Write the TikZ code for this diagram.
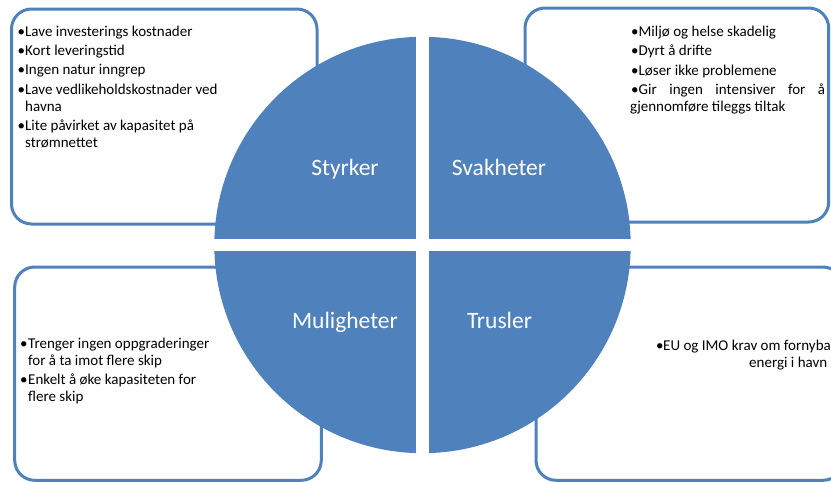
\documentclass[tikz,border=0pt]{standalone}
\usepackage{fontspec}
\setmainfont{Carlito}
\definecolor{swotblue}{RGB}{79,129,189}
\begin{document}
\begin{tikzpicture}[x=1pt,y=-1pt,
  frame/.style={draw=swotblue, line width=3pt, rounded corners=20pt},
  quad/.style={fill=swotblue},
  heading/.style={text=white, inner sep=0pt, anchor=base,
    font=\fontsize{23.5}{28}\selectfont},
  item/.style={text=black, inner sep=0pt, anchor=base west,
    font=\fontsize{15}{17}\selectfont}]
\useasboundingbox (0,0) rectangle (831,482);
\clip (0,0) rectangle (831,482);

% outlined text boxes behind the disc
\draw[frame] (11.5,9) rectangle (317,224);
\draw[frame] (525,8) rectangle (828.7,222);
\draw[frame] (14.7,267) rectangle (321.3,480.3);
\draw[frame] (536,267) rectangle (843,480.3);

% the disc, split into four quarters by a white cross
\coordinate (c) at (422.5,245);
\begin{scope}
  \clip (0,0) rectangle (415.8,238.3);
  \fill[quad] (c) circle[radius=208.2];
\end{scope}
\begin{scope}
  \clip (429.2,0) rectangle (831,238.3);
  \fill[quad] (c) circle[radius=208.2];
\end{scope}
\begin{scope}
  \clip (0,251.7) rectangle (415.8,482);
  \fill[quad] (c) circle[radius=208.2];
\end{scope}
\begin{scope}
  \clip (429.2,251.7) rectangle (831,482);
  \fill[quad] (c) circle[radius=208.2];
\end{scope}

% quarter headings
\node[heading] (hS) at (345,175) {Styrker};
\node[heading] (hW) at (499,175) {Svakheter};
\node[heading] (hO) at (345,328) {Muligheter};
\node[heading] (hT) at (499.5,328) {Trusler};

% strengths
\node[item] (s1) at (17.3,36) {\makebox[7.7pt][l]{•}Lave investerings kostnader};
\node[item] (s2) at (17.3,55) {\makebox[7.7pt][l]{•}Kort leveringstid};
\node[item] (s3) at (17.3,74.5) {\makebox[7.7pt][l]{•}Ingen natur inngrep};
\node[item] (s4) at (17.3,94) {\makebox[7.7pt][l]{•}Lave vedlikeholdskostnader ved};
\node[item] (s5) at (25,111) {havna};
\node[item] (s6) at (17.3,130) {\makebox[7.7pt][l]{•}Lite påvirket av kapasitet på};
\node[item] (s7) at (25,147) {strømnettet};

% weaknesses
\node[item] (w1) at (631,36) {•Miljø og helse skadelig};
\node[item] (w2) at (631,55.5) {•Dyrt å drifte};
\node[item] (w3) at (631,75) {•Løser ikke problemene};
\node[item] (w4) at (631,94) {\makebox[194pt][s]{•Gir ingen intensiver for å}};
\node[item] (w5) at (630,111) {gjennomføre tileggs tiltak};

% opportunities
\node[item] (o1) at (20,348) {\makebox[8pt][l]{•}Trenger ingen oppgraderinger};
\node[item] (o2) at (28,365) {for å ta imot flere skip};
\node[item] (o3) at (20,384) {\makebox[8pt][l]{•}Enkelt å øke kapasiteten for};
\node[item] (o4) at (28,401) {flere skip};

% threats
\node[item] (t1) at (656,350) {\makebox[7pt][l]{•}EU og IMO krav om fornybar};
\node[item] (t2) at (749,367) {energi i havn};
\end{tikzpicture}
\end{document}
